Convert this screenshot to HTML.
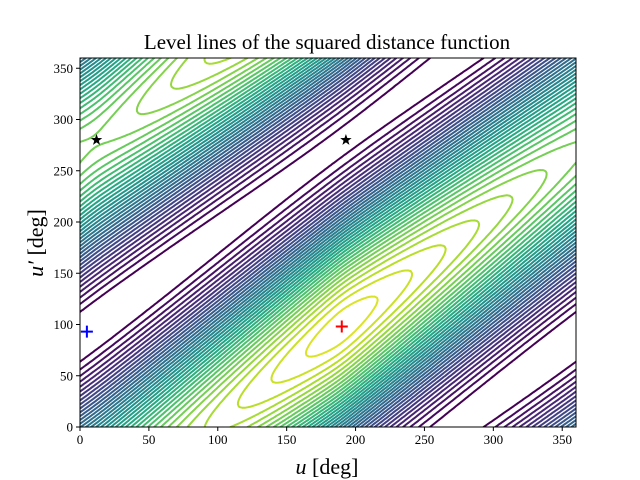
<!DOCTYPE html>
<html><head><meta charset="utf-8"><style>
body{margin:0;background:#fff;}
svg{display:block;font-family:"Liberation Serif",serif;}
</style></head><body>
<svg id="chart" width="640" height="480" viewBox="0 0 640 480">
<defs><clipPath id="clip"><rect x="80" y="58" width="496" height="369"/></clipPath></defs>
<rect width="640" height="480" fill="#fff"/>
<g id="contours" clip-path="url(#clip)"></g>
<g id="markers"></g>
<rect x="80" y="58" width="496" height="369" fill="none" stroke="#000" stroke-width="1"/>
<g id="ticks"></g>
<text x="327" y="49" text-anchor="middle" font-size="21">Level lines of the squared distance function</text>
<text x="327" y="474" text-anchor="middle" font-size="22"><tspan font-style="italic">u</tspan> [deg]</text>
<text transform="translate(43,243) rotate(-90)" text-anchor="middle" font-size="22"><tspan font-style="italic">u′</tspan> [deg]</text>
</svg>
<script>
const ticksX = [0,50,100,150,200,250,300,350];
const ticksY = [0,50,100,150,200,250,300,350];
const minimumPt = [5, 93];
const maximumPt = [190, 98];
const saddleU = [12, 193];
const saddleV = [280, 280];
const bandOffset = [88];
const bandMod = [0.13, 0.02];
const levelCount = [39];
const levelRange = [0.035, 0.985];

const NS='http://www.w3.org/2000/svg';
const X0=80,X1=576,Y0=427,Y1=58;
const X=u=>X0+u*(X1-X0)/360;
const Y=v=>Y0-v*(Y0-Y1)/360;
const R=Math.PI/180;
function f(u,v){
  const d=(v-u-bandOffset[0])*R;
  const w=(1-Math.cos(d))/2;
  const x=(u-maximumPt[0])*R;
  const B=1-bandMod[0]+bandMod[0]*(2/Math.PI)*Math.asin(0.98*Math.cos(x))/Math.asin(0.98)*1;
  const e=bandMod[1]*(1-Math.cos((u-minimumPt[0])*R))/2;
  return w*B+(1-w)*e;
}
const stops=['#440154','#482475','#414487','#355f8d','#2a788e','#21918c','#22a884','#44bf70','#7ad151','#bddf26','#fde725'];
function vir(t){
  t=Math.max(0,Math.min(1,t));const s=t*10,i=Math.min(9,Math.floor(s)),fr=s-i;
  const a=stops[i],b=stops[i+1];const c=k=>{const p=parseInt(a.substr(k,2),16),q=parseInt(b.substr(k,2),16);return Math.round(p+(q-p)*fr);};
  return `rgb(${c(1)},${c(3)},${c(5)})`;
}
const step=2,n=360/step+1;
const G=[];
for(let i=0;i<n;i++){G.push([]);for(let j=0;j<n;j++)G[i].push(f(i*step,j*step));}
const levels=[];
for(let k=0;k<levelCount[0];k++)levels.push(levelRange[0]+(levelRange[1]-levelRange[0])*k/(levelCount[0]-1));
const cg=document.getElementById('contours');
levels.forEach((L,k)=>{
  let d='';
  for(let i=0;i<n-1;i++)for(let j=0;j<n-1;j++){
    const a=G[i][j],b=G[i+1][j],c=G[i+1][j+1],e=G[i][j+1];
    const u0=i*step,v0=j*step,pts=[];
    const ed=(p,q,x1,y1,x2,y2)=>{if((p<L)!==(q<L)){const t=(L-p)/(q-p);pts.push([x1+(x2-x1)*t,y1+(y2-y1)*t]);}};
    ed(a,b,u0,v0,u0+step,v0);ed(b,c,u0+step,v0,u0+step,v0+step);
    ed(c,e,u0+step,v0+step,u0,v0+step);ed(e,a,u0,v0+step,u0,v0);
    const seg=(p,q)=>{d+=`M${X(p[0]).toFixed(1)} ${Y(p[1]).toFixed(1)}L${X(q[0]).toFixed(1)} ${Y(q[1]).toFixed(1)}`;};
    if(pts.length===2)seg(pts[0],pts[1]);
    else if(pts.length===4){const m=(a+b+c+e)/4;if((m<L)===(a<L)){seg(pts[0],pts[3]);seg(pts[1],pts[2]);}else{seg(pts[0],pts[1]);seg(pts[2],pts[3]);}}
  }
  const p=document.createElementNS(NS,'path');
  p.setAttribute('d',d);p.setAttribute('fill','none');p.setAttribute('stroke',vir(k/(levels.length-1)));
  p.setAttribute('stroke-width','2');p.setAttribute('stroke-linecap','round');
  
  
  cg.appendChild(p);
});
const mg=document.getElementById('markers');
function plus(pt,col,name){
  const g=document.createElementNS(NS,'path');const x=X(pt[0]),y=Y(pt[1]);
  g.setAttribute('d',`M${x-6} ${y}H${x+6}M${x} ${y-6}V${y+6}`);g.setAttribute('stroke',col);g.setAttribute('stroke-width','2');
  
  
  mg.appendChild(g);
}
plus(minimumPt,'#0000ff','minimum-marker');
plus(maximumPt,'#ff0000','maximum-marker');
saddleU.forEach((u,i)=>{
  const x=X(u),y=Y(saddleV[i]);let d='';
  for(let k=0;k<10;k++){const r=k%2?2.4:6,a=-Math.PI/2+k*Math.PI/5;d+=(k?'L':'M')+(x+r*Math.cos(a)).toFixed(2)+' '+(y+r*Math.sin(a)).toFixed(2);}
  const s=document.createElementNS(NS,'path');s.setAttribute('d',d+'Z');s.setAttribute('fill','#000');
  
  
  mg.appendChild(s);
});
const tg=document.getElementById('ticks');
ticksX.forEach(t=>{
  const l=document.createElementNS(NS,'line');l.setAttribute('x1',X(t));l.setAttribute('x2',X(t));l.setAttribute('y1',Y0);l.setAttribute('y2',Y0+4);l.setAttribute('stroke','#000');
  
  
  tg.appendChild(l);
  const tx=document.createElementNS(NS,'text');tx.setAttribute('x',X(t));tx.setAttribute('y',Y0+17);tx.setAttribute('text-anchor','middle');tx.setAttribute('font-size','13');tx.textContent=t;
  
  
  tg.appendChild(tx);
});
ticksY.forEach(t=>{
  const l=document.createElementNS(NS,'line');l.setAttribute('x1',X0-4);l.setAttribute('x2',X0);l.setAttribute('y1',Y(t));l.setAttribute('y2',Y(t));l.setAttribute('stroke','#000');
  
  
  tg.appendChild(l);
  const tx=document.createElementNS(NS,'text');tx.setAttribute('x',X0-7);tx.setAttribute('y',Y(t)+4.5);tx.setAttribute('text-anchor','end');tx.setAttribute('font-size','13');tx.textContent=t;
  
  
  tg.appendChild(tx);
});
</script>
</body></html>
